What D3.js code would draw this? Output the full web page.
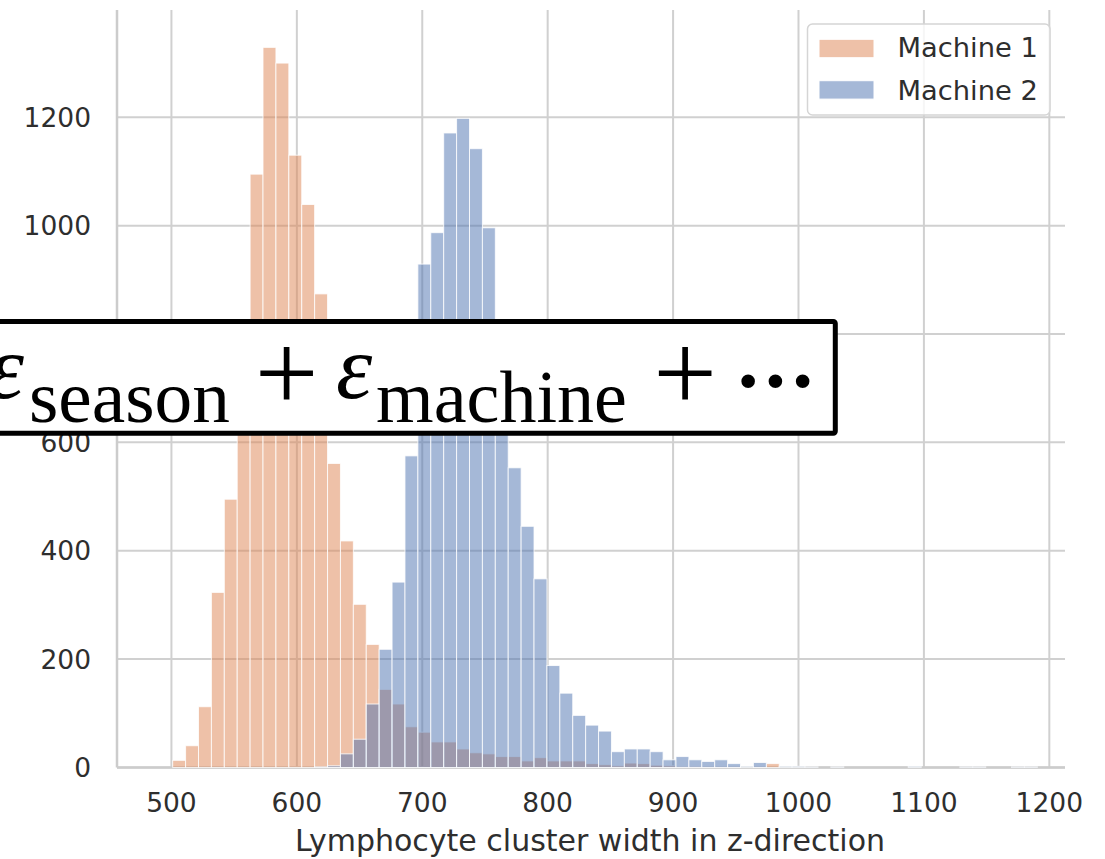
<!DOCTYPE html>
<html>
<head>
<meta charset="utf-8">
<script src="https://cdn.jsdelivr.net/npm/d3@7/dist/d3.min.js"></script>
<style>
  html, body { margin: 0; padding: 0; background: #fff; }
  svg { display: block; }
</style>
</head>
<body>
<div id="chart"></div>
<script>
// histogram bins (common to both machines)
const binStart = 501.0;
const binWidth = 10.29;

// counts per bin
const machine1 = [
  13, 40, 112, 323, 495, 720, 1095, 1329, 1300, 1130,
  1039, 874, 561, 418, 301, 227, 144, 117, 75, 65,
  47, 47, 34, 27, 25, 20, 20, 12, 18, 12,
  12, 12, 7, 5, 3, 8, 7, 4, 3, 2,
  2, 1, 1, 1, 0, 1, 7, 0, 0, 0,
  0, 0, 0, 0, 0, 0, 0, 0, 0, 0,
  0, 0, 0, 0, 0, 0, 0, 0
];
const machine2 = [
  0, 0, 0, 0, 0, 0, 0, 0, 0, 0,
  0, 1, 3, 25, 52, 117, 218, 342, 575, 929,
  987, 1171, 1198, 1142, 996, 780, 553, 445, 348, 188,
  137, 96, 78, 67, 29, 34, 34, 29, 14, 20,
  14, 11, 14, 7, 2, 9, 0, 2, 2, 1,
  0, 1, 0, 0, 0, 0, 0, 2, 0, 0,
  0, 1, 1, 0, 0, 1, 1, 0
];

const seriesNames = ["Machine 1", "Machine 2"];
const seriesColors = ["#dd8452", "#4c72b0"];
const xTicks = [500, 600, 700, 800, 900, 1000, 1100, 1200];
const yTicks = [0, 200, 400, 600, 800, 1000, 1200];
const xLabel = "Lymphocyte cluster width in z-direction";

const width = 1105, height = 859;
const plot = { left: 117, right: 1065, top: 10, bottom: 767.4 };
const textColor = "#2e2e2e";
const gridColor = "#d0d0d0";

const svg = d3.select("#chart").append("svg")
    .attr("width", width)
    .attr("height", height)
    .style("font-family", "'DejaVu Sans', sans-serif");

const x = d3.scaleLinear()
    .domain([456.6, 1212.5])
    .range([plot.left, plot.right]);

const y = d3.scaleLinear()
    .domain([0, 1398])
    .range([plot.bottom, plot.top]);

// grid
svg.append("g").selectAll("line")
    .data(xTicks)
    .join("line")
    .attr("x1", d => x(d)).attr("x2", d => x(d))
    .attr("y1", plot.top).attr("y2", plot.bottom)
    .attr("stroke", gridColor).attr("stroke-width", 2);

svg.append("g").selectAll("line")
    .data(yTicks)
    .join("line")
    .attr("x1", plot.left).attr("x2", plot.right)
    .attr("y1", d => y(d)).attr("y2", d => y(d))
    .attr("stroke", gridColor).attr("stroke-width", 2);

// spines
svg.append("line")
    .attr("x1", plot.left).attr("x2", plot.left)
    .attr("y1", plot.top).attr("y2", plot.bottom)
    .attr("stroke", "#cccccc").attr("stroke-width", 2.5);
svg.append("line")
    .attr("x1", plot.left).attr("x2", plot.right)
    .attr("y1", plot.bottom).attr("y2", plot.bottom)
    .attr("stroke", "#cccccc").attr("stroke-width", 2.5);

// bars: machine 1 first, machine 2 over it
const edges = d3.range(machine1.length).map(i => binStart + i * binWidth);
[machine1, machine2].forEach((counts, s) => {
  svg.append("g").selectAll("rect")
      .data(counts.map((c, i) => ({ x0: edges[i], c: c })).filter(d => d.c > 0))
      .join("rect")
      .attr("x", d => x(d.x0))
      .attr("width", d => x(d.x0 + binWidth) - x(d.x0))
      .attr("y", d => y(d.c))
      .attr("height", d => y(0) - y(d.c))
      .attr("fill", seriesColors[s])
      .attr("fill-opacity", 0.5)
      .attr("stroke", "#ffffff")
      .attr("stroke-opacity", 0.8)
      .attr("stroke-width", 1);
});

// tick labels
svg.append("g").selectAll("text")
    .data(yTicks)
    .join("text")
    .attr("x", 91)
    .attr("y", d => y(d))
    .attr("dy", "0.36em")
    .attr("text-anchor", "end")
    .attr("font-size", "26.5px")
    .attr("fill", textColor)
    .text(d => d);

svg.append("g").selectAll("text")
    .data(xTicks)
    .join("text")
    .attr("x", d => x(d))
    .attr("y", 812)
    .attr("text-anchor", "middle")
    .attr("font-size", "26.5px")
    .attr("fill", textColor)
    .text(d => d);

svg.append("text")
    .attr("x", 590)
    .attr("y", 851)
    .attr("text-anchor", "middle")
    .attr("font-size", "30px")
    .attr("fill", textColor)
    .text(xLabel);

// legend
const legend = svg.append("g");
legend.append("rect")
    .attr("x", 807.5).attr("y", 24)
    .attr("width", 242.5).attr("height", 91)
    .attr("rx", 5)
    .attr("fill", "#ffffff").attr("fill-opacity", 0.8)
    .attr("stroke", "#d5d5d5").attr("stroke-width", 1.5);
seriesNames.forEach((name, i) => {
  legend.append("rect")
      .attr("x", 819).attr("y", 39.3 + i * 41.4)
      .attr("width", 55).attr("height", 18.4)
      .attr("fill", seriesColors[i]).attr("fill-opacity", 0.5)
      .attr("stroke", "#ffffff").attr("stroke-width", 1);
  legend.append("text")
      .attr("x", 897.5).attr("y", 56.8 + i * 43)
      .attr("font-size", "27.3px")
      .attr("fill", textColor)
      .text(name);
});

// formula overlay box
const box = svg.append("g").style("font-family", "'Liberation Serif', serif");
box.append("rect")
    .attr("x", -20).attr("y", 321.5)
    .attr("width", 855.3).attr("height", 111.8)
    .attr("rx", 2)
    .attr("fill", "#ffffff")
    .attr("stroke", "#000000").attr("stroke-width", 5);

box.append("text")
    .attr("x", 24).attr("y", 398)
    .attr("text-anchor", "end")
    .attr("font-style", "italic")
    .attr("font-size", "92px")
    .text("ε");
box.append("text")
    .attr("x", 29).attr("y", 421.7)
    .attr("font-size", "74px")
    .attr("textLength", 201).attr("lengthAdjust", "spacingAndGlyphs")
    .text("season");
box.append("text")
    .attr("x", 286.5).attr("y", 411)
    .attr("text-anchor", "middle")
    .attr("font-size", "113px")
    .text("+");
box.append("text")
    .attr("x", 336).attr("y", 398)
    .attr("font-style", "italic")
    .attr("font-size", "92px")
    .text("ε");
box.append("text")
    .attr("x", 376).attr("y", 421.7)
    .attr("font-size", "74px")
    .attr("textLength", 251).attr("lengthAdjust", "spacingAndGlyphs")
    .text("machine");
box.append("text")
    .attr("x", 685).attr("y", 411)
    .attr("text-anchor", "middle")
    .attr("font-size", "113px")
    .text("+");
box.append("text")
    .attr("x", 729).attr("y", 419)
    .attr("font-size", "115px")
    .attr("letter-spacing", "-11px")
    .text("···");
</script>
</body>
</html>
